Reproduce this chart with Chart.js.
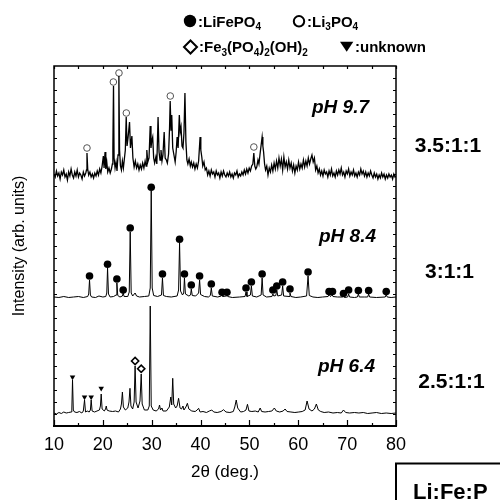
<!DOCTYPE html>
<html>
<head>
<meta charset="utf-8">
<script src="https://cdn.jsdelivr.net/npm/chart.js@4.4.1/dist/chart.umd.min.js"></script>
<style>
  html, body { margin: 0; padding: 0; background: #fff; }
  #wrap { width: 500px; height: 500px; }
</style>
</head>
<body>
<div id="wrap"><canvas id="xrd" width="500" height="500"></canvas></div>
<script>
const FONT = "'Liberation Sans', Arial, Helvetica, sans-serif";

// 2theta ticks
const xTicks = [10, 20, 30, 40, 50, 60, 70, 80];

// stacking offset of each pattern (arb. units)
const offsets = { ph64: 0, ph84: 116, ph97: 238 };

// [2theta, intensity]
const ph97 = [
  [10.0,14],[10.25,11],[10.5,17],[10.75,12],[11.0,15],[11.25,9],[11.5,16],[11.75,13],[12.0,18],[12.25,11],
  [12.5,14],[12.75,8],[13.0,16],[13.25,12],[13.5,19],[13.75,13],[14.0,10],[14.25,16],[14.5,12],[14.75,18],
  [15.0,11],[15.25,15],[15.5,13],[15.75,9],[16.0,16],[16.25,12],[16.5,15],[16.65,18],[16.75,35],[16.9,19],
  [17.1,13],[17.35,16],[17.6,11],[17.85,14],[18.1,10],[18.35,15],[18.6,12],[18.85,17],[19.1,13],[19.35,19],
  [19.6,15],[19.85,22],[20.1,32],[20.25,20],[20.45,36],[20.6,19],[20.8,26],[21.0,16],[21.25,20],[21.5,15],
  [21.75,19],[21.95,24],[22.05,40],[22.18,102],[22.3,30],[22.5,20],[22.7,26],[22.9,17],[23.1,33],[23.28,112],
  [23.42,38],[23.6,22],[23.8,18],[24.0,27],[24.2,20],[24.4,29],[24.6,38],[24.78,71],[24.95,42],[25.15,50],
  [25.46,66],[25.65,40],[25.94,52],[26.15,30],[26.4,21],[26.65,27],[26.9,20],[27.15,24],[27.4,18],[27.65,23],
  [27.9,19],[28.15,25],[28.4,20],[28.65,27],[28.85,22],[29.0,38],[29.2,26],[29.45,30],[29.69,62],[29.85,40],
  [30.0,47],[30.2,51],[30.4,30],[30.6,25],[30.85,31],[31.05,24],[31.3,71],[31.5,36],[31.7,28],[31.9,38],
  [32.1,27],[32.3,33],[32.55,56],[32.75,30],[33.0,28],[33.2,25],[33.45,34],[33.65,60],[33.78,87],[33.95,58],
  [34.1,73],[34.3,40],[34.55,33],[34.8,26],[35.0,36],[35.2,51],[35.4,40],[35.65,73],[35.82,56],[36.0,61],
  [36.2,42],[36.4,40],[36.6,55],[36.8,95],[37.0,46],[37.2,28],[37.4,24],[37.65,29],[37.9,22],[38.1,26],
  [38.35,21],[38.6,25],[38.85,19],[39.1,24],[39.35,20],[39.6,27],[39.9,51],[40.05,38],[40.25,31],[40.45,22],
  [40.7,26],[40.95,18],[41.2,20],[41.45,13],[41.7,17],[41.95,12],[42.2,18],[42.45,14],[42.7,16],[42.95,11],
  [43.2,17],[43.45,13],[43.7,15],[43.95,10],[44.2,16],[44.45,12],[44.7,17],[44.95,13],[45.2,11],[45.45,15],
  [45.7,12],[45.95,16],[46.2,11],[46.45,14],[46.7,10],[46.95,15],[47.2,13],[47.45,17],[47.7,11],[47.95,14],
  [48.2,12],[48.45,16],[48.7,13],[48.95,18],[49.2,14],[49.45,19],[49.7,15],[49.95,20],[50.2,17],[50.45,22],
  [50.7,24],[50.9,35],[51.1,22],[51.3,19],[51.5,21],[51.75,28],[51.95,24],[52.15,33],[52.6,51],[52.75,42],
  [52.9,36],[53.1,24],[53.3,18],[53.55,22],[53.8,13],[54.05,20],[54.3,16],[54.55,23],[54.8,17],[55.05,25],
  [55.3,19],[55.55,27],[55.8,20],[56.05,30],[56.3,22],[56.55,29],[56.8,18],[57.05,31],[57.3,21],[57.55,26],
  [57.8,19],[58.05,28],[58.3,20],[58.55,25],[58.8,17],[59.05,23],[59.3,15],[59.55,22],[59.8,18],[60.05,26],
  [60.3,19],[60.55,24],[60.8,20],[61.05,28],[61.3,21],[61.55,27],[61.8,22],[62.05,30],[62.3,24],[62.55,29],
  [62.8,33],[63.05,26],[63.3,30],[63.55,18],[63.8,22],[64.05,15],[64.3,19],[64.55,13],[64.8,17],[65.05,12],
  [65.3,18],[65.55,14],[65.8,16],[66.05,11],[66.3,17],[66.55,13],[66.8,19],[67.05,12],[67.3,15],[67.55,11],
  [67.8,17],[68.05,13],[68.3,18],[68.55,14],[68.8,20],[69.05,13],[69.3,16],[69.55,11],[69.8,17],[70.05,14],
  [70.3,19],[70.55,12],[70.8,16],[71.05,13],[71.3,18],[71.55,12],[71.8,15],[72.05,11],[72.3,16],[72.55,13],
  [72.8,19],[73.05,14],[73.3,17],[73.55,12],[73.8,16],[74.05,11],[74.3,15],[74.55,12],[74.8,17],[75.05,13],
  [75.3,10],[75.55,15],[75.8,11],[76.05,14],[76.3,9],[76.55,13],[76.8,10],[77.05,15],[77.3,11],[77.55,14],
  [77.8,9],[78.05,13],[78.3,10],[78.55,14],[78.8,11],[79.05,13],[79.3,9],[79.55,14],[79.8,11],[80.0,12]
];

const ph84 = [
  [10,13],[11,12.5],[12,13.5],[13,12.5],[14,13],[15,13.5],[16,12.5],[16.9,13.5],[17.1,16],[17.27,30],
  [17.45,15],[17.7,13],[18.5,12.5],[19.2,14],[20,13],[20.6,13.5],[20.8,17],[20.96,42],[21.15,16],[21.5,13],
  [22.2,13.5],[22.7,15],[22.87,27],[23.05,14.5],[23.5,13],[24.0,14],[24.16,17],[24.35,13.5],[25.1,13.5],[25.4,18],
  [25.6,78],[25.8,17],[26.1,14],[26.6,17],[26.9,14],[27.5,13],[28.5,13.5],[29.4,14],[29.7,22],[29.9,119],
  [30.1,22],[30.4,14.5],[31.2,13.5],[32.0,15],[32.2,32],[32.4,14.5],[33,13.5],[34,13],[35.2,14],[35.5,20],
  [35.7,67],[35.9,19],[36.3,15],[36.55,17],[36.7,32],[36.9,16],[37.6,14],[37.95,15],[38.1,21],[38.3,14.5],
  [39.0,14],[39.6,17],[39.8,30],[40.0,15.5],[40.8,13.5],[41.6,13],[42.0,14.5],[42.2,22],[42.4,14],[43.5,13],
  [44.25,14],[44.4,15.5],[44.55,13.5],[45.25,14],[45.4,15.5],[45.55,13.5],[46.5,12.5],[48,13],[49.1,13.5],[49.3,18],
  [49.5,13.5],[50.2,15],[50.4,24],[50.6,14],[51.5,13],[52.4,15],[52.6,32],[52.8,15],[53.5,13],[54.6,13.5],
  [54.8,16],[55.0,14],[55.4,14.5],[55.6,20],[55.8,14],[56.6,15],[56.8,24],[57.0,14],[58.1,13.5],[58.3,17],
  [58.5,13.5],[59.5,12.5],[60.5,13],[61.7,14],[62.0,34],[62.25,14.5],[63,13],[64,12.5],[65,13],[66.1,13.5],
  [66.3,15.5],[66.6,13.5],[66.9,15.5],[67.1,13.5],[68,13],[69.1,13],[69.25,14],[69.45,12.5],[70.1,13],[70.3,16],
  [70.5,13],[71.5,12.5],[72.1,13],[72.3,16],[72.5,13],[73.5,13],[74.2,13],[74.4,16],[74.6,13],[76,12.5],
  [77.8,13],[78.0,15.5],[78.2,13],[79,12.5],[80,13]
];

const ph64 = [
  [10,13],[10.5,12],[11,13.5],[11.5,12.5],[12,14],[12.5,13],[13,13.5],[13.5,14],[13.65,17],[13.79,46],
  [13.95,16],[14.2,14],[14.7,13.5],[15.2,14.5],[15.7,13],[16.0,15],[16.25,26],[16.45,14],[16.8,15],[17.2,14],
  [17.45,16],[17.61,26],[17.8,15],[18.3,14],[18.8,15],[19.3,16],[19.5,20],[19.66,32],[19.85,17],[20.3,15],
  [20.55,17],[20.7,20],[20.85,16],[21.3,15],[22,14.5],[22.6,15],[23.2,14],[23.6,17],[23.8,22],[24.0,34],
  [24.2,19],[24.6,16],[25.1,18],[25.35,24],[25.55,37.7],[25.75,20],[26.1,17],[26.4,24],[26.6,60],[26.8,24],
  [27.2,18],[27.6,25],[27.85,52],[28.05,22],[28.5,16],[29.2,16],[29.5,20],[29.7,120],[29.9,20],[30.3,16],
  [30.9,15],[31.4,17],[31.6,21],[31.8,16],[32.1,18],[32.3,15],[33.0,15],[33.6,19],[33.9,29],[34.1,21],
  [34.3,47.7],[34.5,22],[34.9,18],[35.2,20],[35.5,27.7],[35.8,18],[36.1,17],[36.4,20],[36.6,16],[37.0,19],
  [37.3,22.7],[37.6,17],[38.2,15],[38.9,14.5],[39.3,16],[39.6,17.7],[39.9,14],[40.5,14.5],[41.2,13.5],[41.8,15],
  [42.3,16],[42.7,14],[43.4,13.5],[44.2,14.5],[44.7,16.3],[45.2,14],[46.0,13.5],[46.7,14.5],[47.0,19],[47.3,26],
  [47.6,18],[48.2,14],[48.8,14.5],[49.3,16],[49.6,21.7],[49.9,15],[50.5,14.5],[51.2,15],[51.8,14],[52.2,18],
  [52.5,14.5],[53.2,14],[53.9,14.5],[54.6,15],[55.1,18],[55.5,15],[56.2,14],[56.9,15],[57.3,17],[57.7,14.5],
  [58.5,14],[59.3,13.5],[60.1,14],[60.8,14.5],[61.4,16],[61.8,25],[62.2,17],[62.8,15],[63.3,17],[63.7,22],
  [64.1,16],[64.6,14.5],[65.3,13.5],[66.2,14],[67.1,13],[68.0,13.5],[68.8,13],[69.25,16],[69.7,13.5],[70.5,13],
  [71.5,13.5],[72.4,13],[73.3,13.5],[74.2,12.5],[75.1,13],[76.0,13.5],[77.0,12.5],[78.0,13],[79.0,12.5],[80,13]
];

// phase marks [2theta, height]
const markLiFePO4 = [
  [17.27,34],[20.96,45.7],[22.87,31],[24.16,20],[25.6,82],[29.9,122.7],[32.2,36],[35.7,70.7],[36.7,36],[38.1,25],
  [39.8,34],[42.2,26],[44.4,17.7],[45.4,17.7],[49.3,22],[50.4,28],[52.6,36],[54.8,20],[55.6,24],[56.8,28],
  [58.3,21],[62.0,38],[66.3,18.5],[67.0,18.5],[69.25,16.5],[70.3,20],[72.3,19.5],[74.4,19.5],[78.0,18.5]
];
const markLi3PO4 = [[16.75,40],[22.15,106],[23.3,115],[24.8,75],[33.8,92],[50.9,41]];
const markFePOOH = [[26.6,65],[27.85,57.3]];
const markUnknown = [[13.79,49],[16.25,29],[17.61,29],[19.66,37.7]];

const sampleLabels = ['pH 9.7', 'pH 8.4', 'pH 6.4'];
const ratioLabels = ['3.5:1:1', '3:1:1', '2.5:1:1'];
const ratioTitle = 'Li:Fe:P';
const phaseLabels = ['LiFePO_4', 'Li_3PO_4', 'Fe_3(PO_4)_2(OH)_2', 'unknown'];

const toPoints = (arr, off) => arr.map(([x, y]) => ({ x, y: y + off }));

const lineSet = (data, off, width) => ({
    data: toPoints(data, off),
    showLine: true,
    borderColor: '#000',
    borderWidth: width,
    pointRadius: 0,
    tension: 0
});

const markSet = (data, off, style) => Object.assign({
    data: toPoints(data, off),
    showLine: false,
    pointHoverRadius: 0
}, style);

// formula with _n subscripts, drawn piece by piece
function drawFormula(ctx, text, x, y) {
    text.split(/(_\d)/).filter(Boolean).forEach(part => {
        const sub = part[0] === '_';
        const t = sub ? part.slice(1) : part;
        ctx.font = sub ? `bold 10px ${FONT}` : `bold 15px ${FONT}`;
        ctx.fillText(t, x, sub ? y + 3.5 : y);
        x += ctx.measureText(t).width;
    });
}

const framePlugin = {
    id: 'frame',
    afterDatasetsDraw(chart) {
        const { ctx, chartArea: a, scales: { x, y } } = chart;
        ctx.save();
        ctx.strokeStyle = '#000';
        ctx.lineWidth = 1.5;
        ctx.strokeRect(a.left, a.top, a.right - a.left, a.bottom - a.top);
        ctx.lineWidth = 2.2;
        ctx.beginPath();
        ctx.moveTo(a.left - 1, a.bottom);
        ctx.lineTo(a.right + 1, a.bottom);
        ctx.stroke();

        ctx.lineWidth = 1.2;
        ctx.beginPath();
        for (let v = 10; v <= 80; v += 5) {
            const px = Math.round(x.getPixelForValue(v)) + 0.5;
            const len = v % 10 === 0 ? 6 : 3;
            ctx.moveTo(px, a.bottom);
            ctx.lineTo(px, a.bottom - len);
            ctx.moveTo(px, a.top);
            ctx.lineTo(px, a.top + 3);
        }
        for (let v = 12; v < 360; v += 12) {
            const py = Math.round(y.getPixelForValue(v)) + 0.5;
            ctx.moveTo(a.left, py);
            ctx.lineTo(a.left + 3, py);
            ctx.moveTo(a.right, py);
            ctx.lineTo(a.right - 3, py);
        }
        ctx.stroke();
        ctx.restore();
    }
};

const textPlugin = {
    id: 'texts',
    afterDraw(chart) {
        const { ctx } = chart;
        ctx.save();
        ctx.fillStyle = '#000';
        ctx.strokeStyle = '#000';
        ctx.textAlign = 'left';
        ctx.textBaseline = 'alphabetic';

        // legend symbols
        ctx.beginPath();
        ctx.arc(190, 21, 6.2, 0, Math.PI * 2);
        ctx.fill();
        ctx.lineWidth = 2;
        ctx.beginPath();
        ctx.arc(299, 21.3, 5.2, 0, Math.PI * 2);
        ctx.stroke();
        ctx.beginPath();
        ctx.moveTo(190.5, 40.5);
        ctx.lineTo(197, 47);
        ctx.lineTo(190.5, 53.5);
        ctx.lineTo(184, 47);
        ctx.closePath();
        ctx.stroke();
        ctx.beginPath();
        ctx.moveTo(340, 41.7);
        ctx.lineTo(353.3, 41.7);
        ctx.lineTo(346.7, 51.7);
        ctx.closePath();
        ctx.fill();

        drawFormula(ctx, ':' + phaseLabels[0], 198, 26.7);
        drawFormula(ctx, ':' + phaseLabels[1], 307, 26.7);
        drawFormula(ctx, ':' + phaseLabels[2], 199, 52);
        drawFormula(ctx, ':' + phaseLabels[3], 355, 52);

        // sample labels
        ctx.textBaseline = 'middle';
        ctx.font = `italic bold 19px ${FONT}`;
        ctx.fillText(sampleLabels[0], 312, 108);
        ctx.fillText(sampleLabels[1], 319, 237);
        ctx.fillText(sampleLabels[2], 318, 367);

        ctx.textAlign = 'center';
        ctx.font = `bold 21px ${FONT}`;
        ctx.fillText(ratioLabels[0], 448, 146);
        ctx.fillText(ratioLabels[1], 449.5, 272);
        ctx.fillText(ratioLabels[2], 451.5, 382);

        // Li:Fe:P box
        ctx.lineWidth = 2;
        ctx.strokeRect(396, 463.5, 130, 60);
        ctx.textAlign = 'left';
        ctx.textBaseline = 'alphabetic';
        ctx.font = `bold 22px ${FONT}`;
        ctx.fillText(ratioTitle, 413, 499);
        ctx.restore();
    }
};

Chart.defaults.font.family = FONT;
Chart.defaults.color = '#000';

new Chart(document.getElementById('xrd').getContext('2d'), {
    type: 'scatter',
    data: {
        datasets: [
            lineSet(ph97, offsets.ph97, 1.3),
            lineSet(ph84, offsets.ph84, 1),
            lineSet(ph64, offsets.ph64, 1),
            markSet(markLiFePO4, offsets.ph84, {
                pointStyle: 'circle', pointRadius: 3.8,
                backgroundColor: '#000', borderColor: '#000', borderWidth: 0
            }),
            markSet(markLi3PO4, offsets.ph97, {
                pointStyle: 'circle', pointRadius: 3.3,
                backgroundColor: '#fff', borderColor: '#555', borderWidth: 1
            }),
            markSet(markFePOOH, offsets.ph64, {
                pointStyle: 'rectRot', pointRadius: 3.6,
                backgroundColor: '#fff', borderColor: '#000', borderWidth: 1.6
            }),
            markSet(markUnknown, offsets.ph64, {
                pointStyle: 'triangle', pointRotation: 180, pointRadius: 3.2,
                backgroundColor: '#000', borderColor: '#000', borderWidth: 0
            })
        ]
    },
    plugins: [framePlugin, textPlugin],
    options: {
        responsive: false,
        animation: false,
        events: [],
        layout: {
            padding: { top: 66, right: 104, left: 0, bottom: 0 }
        },
        plugins: {
            legend: { display: false },
            tooltip: { enabled: false }
        },
        scales: {
            x: {
                type: 'linear',
                min: 10,
                max: 80,
                afterFit: s => { s.height = 74; },
                afterBuildTicks: s => { s.ticks = xTicks.map(value => ({ value })); },
                grid: { display: false, drawTicks: false },
                border: { display: false },
                ticks: { font: { size: 18 }, padding: 8, maxRotation: 0 },
                title: {
                    display: true,
                    text: '2\u03b8 (deg.)',
                    font: { size: 17 },
                    padding: { top: 0, bottom: 17 }
                }
            },
            y: {
                min: 0,
                max: 360,
                afterFit: s => { s.width = 54; },
                grid: { display: false, drawTicks: false },
                border: { display: false },
                ticks: { display: false },
                title: {
                    display: true,
                    text: 'Intensity (arb. units)',
                    font: { size: 16 },
                    padding: { top: 10, bottom: 0 }
                }
            }
        }
    }
});
</script>
</body>
</html>
